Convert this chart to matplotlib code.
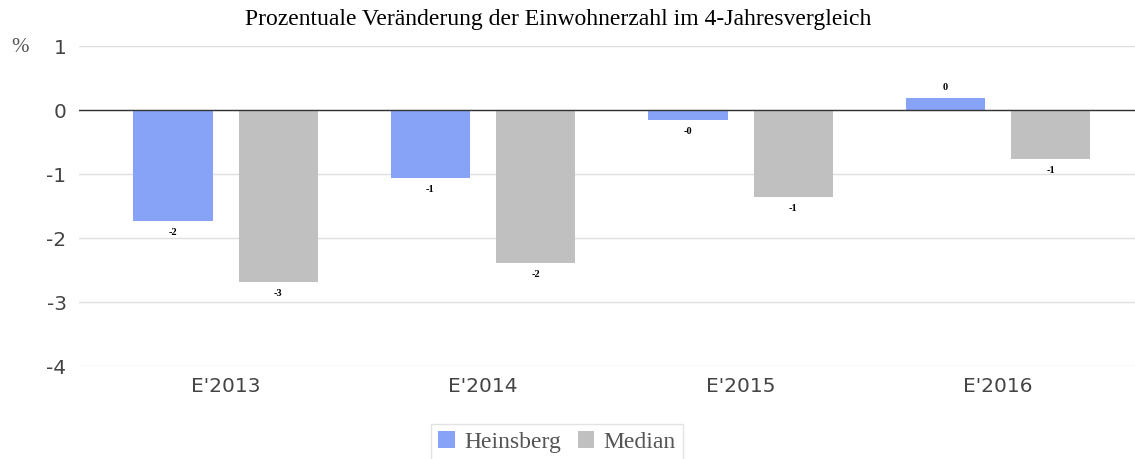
import matplotlib.pyplot as plt
import numpy as np

# Einwohnerzahl, Veraenderung in % gegenueber 4 Jahren zuvor
years = ["E'2013", "E'2014", "E'2015", "E'2016"]
heinsberg = [-1.73, -1.06, -0.16, 0.19]
median = [-2.69, -2.39, -1.36, -0.77]
yticks = [1, 0, -1, -2, -3, -4]

colH = '#87a3f8'
colM = '#c0c0c0'

fig = plt.figure(figsize=(11.35, 4.59), dpi=100)
ax = fig.add_axes([79 / 1135, 1 - 366 / 459, 1 - 79 / 1135, 320 / 459])

x = np.arange(len(years))
w = 0.307
off = 0.204
barsH = ax.bar(x - off, heinsberg, w, color=colH, zorder=3, label='Heinsberg')
barsM = ax.bar(x + off, median, w, color=colM, zorder=3, label='Median')

for bars, vals in ((barsH, heinsberg), (barsM, median)):
    for b, v in zip(bars, vals):
        txt = f"{v:.0f}"
        if v >= 0:
            ax.annotate(txt, (b.get_x() + b.get_width() / 2, v), xytext=(0, 4),
                        textcoords='offset points', ha='center', va='bottom',
                        fontsize=7.5, fontweight='bold', family='Liberation Serif')
        else:
            ax.annotate(txt, (b.get_x() + b.get_width() / 2, v), xytext=(0, -5),
                        textcoords='offset points', ha='center', va='top',
                        fontsize=7.5, fontweight='bold', family='Liberation Serif')

ax.set_xlim(-0.569, 3.532)
ax.set_ylim(-4, 1)
ax.set_yticks(yticks)
ax.set_yticklabels([str(t) for t in yticks])
ax.set_xticks(x)
ax.set_xticklabels(years)
ax.tick_params(axis='both', length=0, labelsize=14.5, labelcolor='#444444')
ax.tick_params(axis='y', pad=9)
ax.tick_params(axis='x', pad=8)
for lab in ax.get_yticklabels() + ax.get_xticklabels():
    lab.set_family('DejaVu Sans')

ax.grid(axis='y', color='#e0e0e0', linewidth=1, zorder=0)
ax.axhline(0, color='#333333', linewidth=1, zorder=4)
for s in ax.spines.values():
    s.set_visible(False)

fig.text(20 / 1135, 1 - 47 / 459, '%', family='Liberation Serif', fontsize=15,
         color='#555555', ha='center', va='center')
fig.text(558 / 1135, 1 - 20 / 459, 'Prozentuale Veränderung der Einwohnerzahl im 4-Jahresvergleich',
         family='Liberation Serif', fontsize=17, ha='center', va='center')

leg = fig.legend(handles=[barsH, barsM], loc='center', bbox_to_anchor=(557 / 1135, 1 - 442 / 459),
                 ncol=2, frameon=True, fancybox=False, edgecolor='#dddddd',
                 prop={'family': 'Liberation Serif', 'size': 17},
                 handlelength=0.7, handleheight=0.7, handletextpad=0.4, columnspacing=0.7,
                 borderpad=0.3)
for t in leg.get_texts():
    t.set_color('#555555')

fig.savefig('out.png', dpi=100)
